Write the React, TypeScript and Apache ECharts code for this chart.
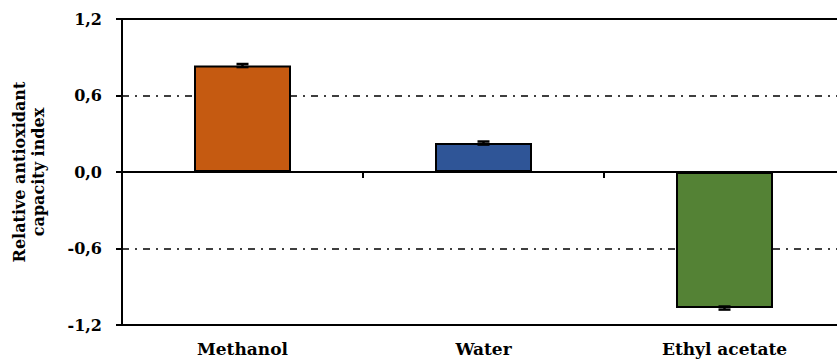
import React, { useEffect, useRef } from "react";
import * as echarts from "echarts";

const categories = ["Methanol", "Water", "Ethyl acetate"];
const values = [0.835, 0.227, -1.067];
const errors = [0.012, 0.012, 0.012];
const colors = ["#C55A11", "#2F5597", "#548235"];
const yTicks = { min: -1.2, max: 1.2, interval: 0.6 };

const FONT = "DejaVu Serif";

export default function App() {
  const ref = useRef<HTMLDivElement>(null);
  useEffect(() => {
    document.body.style.margin = "0";
    const chart = echarts.init(ref.current!, null, { renderer: "svg" });
    const axisLineStyle = { color: "#000", width: 2 };
    chart.setOption({
      animation: false,
      backgroundColor: "#fff",
      grid: {
        left: 122,
        right: -8,
        top: 19,
        bottom: 37,
        containLabel: false,
        outerBoundsMode: "none",
      },
      xAxis: [
        {
          type: "category",
          data: categories,
          position: "bottom",
          axisLine: { show: true, onZero: false, lineStyle: axisLineStyle },
          axisTick: { show: false },
          axisLabel: {
            show: true,
            color: "#000",
            fontFamily: FONT,
            fontWeight: "bold",
            fontSize: 17,
            margin: 15,
          },
          splitLine: { show: false },
        },
        {
          type: "category",
          data: categories,
          position: "top",
          axisLine: { show: true, onZero: false, lineStyle: axisLineStyle },
          axisTick: { show: false },
          axisLabel: { show: false },
          splitLine: { show: false },
        },
        {
          type: "category",
          data: categories,
          position: "top",
          offset: -153,
          axisLine: { show: true, onZero: false, lineStyle: axisLineStyle },
          axisTick: { show: true, inside: true, length: 6, lineStyle: { color: "#000", width: 2 } },
          axisLabel: { show: false },
          splitLine: { show: false },
        },
      ],
      yAxis: {
        type: "value",
        min: yTicks.min,
        max: yTicks.max,
        interval: yTicks.interval,
        name: "Relative antioxidant\ncapacity index",
        nameLocation: "middle",
        nameGap: 74,
        nameTextStyle: {
          color: "#000",
          fontFamily: FONT,
          fontWeight: "bold",
          fontSize: 16,
          lineHeight: 19,
        },
        axisLine: { show: true, lineStyle: axisLineStyle },
        axisTick: { show: true, length: 6, lineStyle: { color: "#000", width: 2 } },
        axisLabel: {
          color: "#000",
          fontFamily: FONT,
          fontWeight: "bold",
          fontSize: 16,
          margin: 20,
          formatter: (v: number) => v.toFixed(1).replace(".", ","),
        },
        splitLine: {
          show: true,
          lineStyle: { color: "#000", width: 1.5, type: [7, 6, 2, 6] },
        },
      },
      series: [
        {
          type: "bar",
          xAxisIndex: 0,
          barWidth: 97,
          data: values.map((v, i) => ({
            value: v,
            itemStyle: { color: colors[i], borderColor: "#000", borderWidth: 2 },
          })),
        },
        {
          type: "custom",
          xAxisIndex: 0,
          z: 10,
          data: values.map((v, i) => [i, v - errors[i], v + errors[i]]),
          renderItem: (params: any, api: any) => {
            const x = api.value(0);
            const lo = api.coord([x, api.value(1)]);
            const hi = api.coord([x, api.value(2)]);
            const half = 6;
            const style = { stroke: "#000", lineWidth: 2.5 };
            return {
              type: "group",
              children: [
                { type: "line", shape: { x1: lo[0], y1: lo[1], x2: hi[0], y2: hi[1] }, style },
                { type: "line", shape: { x1: lo[0] - half, y1: lo[1], x2: lo[0] + half, y2: lo[1] }, style },
                { type: "line", shape: { x1: hi[0] - half, y1: hi[1], x2: hi[0] + half, y2: hi[1] }, style },
              ],
            };
          },
        },
      ],
    });
    return () => chart.dispose();
  }, []);
  return <div ref={ref} style={{ width: 837, height: 362 }} />;
}
